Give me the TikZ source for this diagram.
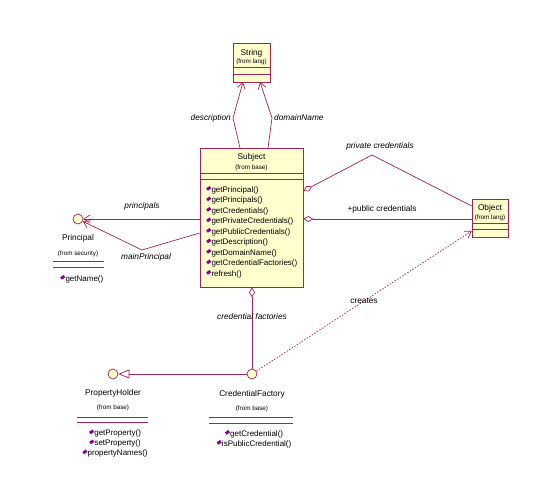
\documentclass[tikz,border=0pt]{standalone}
\usepackage{fontspec}
\setmainfont{Liberation Sans}
\usetikzlibrary{arrows.meta}
\definecolor{lc}{RGB}{165,35,85}
\definecolor{bf}{RGB}{255,255,206}
\definecolor{ic}{RGB}{140,0,150}
\newcommand{\micon}{\textcolor{ic}{\raisebox{1.6pt}{\rotatebox{35}{\rule{4.2pt}{2.9pt}}}}\hspace{0.2pt}}
\begin{document}
\begin{tikzpicture}[x=1pt,y=-1pt,
  box/.style={draw=lc,fill=bf,line width=0.7pt,inner sep=0},
  iface/.style={circle,draw=lc,fill=bf,line width=0.7pt,minimum size=10pt,inner sep=0},
  sep/.style={draw=lc,line width=0.7pt},
  conn/.style={draw=lc,line width=0.7pt},
  nav/.style={-{Straight Barb[length=6pt,width=8pt,line width=0.7pt]}},
  agg/.style={{Diamond[length=10pt,width=6pt,fill=white,line width=0.7pt]}-},
  nm/.style={font=\fontsize{8.3}{10}\selectfont,inner sep=0},
  frm/.style={font=\fontsize{6.3}{7}\selectfont,inner sep=0},
  lbl/.style={font=\fontsize{8.3}{10}\selectfont\itshape,inner sep=0},
  mth/.style={font=\fontsize{8}{10}\selectfont,inner sep=0}]
\useasboundingbox (0,0) rectangle (536,482);

% String
\node[box,minimum width=37pt,minimum height=39pt] (string) at (251.5,62.5) {};
\node[nm] (stringn) at (251.5,53) {String};
\node[frm] (stringf) at (251.5,62) {(from lang)};
\draw[sep] (string.west |- 0,67) -- (string.east |- 0,67);
\draw[sep] (string.west |- 0,74) -- (string.east |- 0,74);

% Subject
\node[box,minimum width=103pt,minimum height=139pt] (subject) at (251.5,217.5) {};
\node[nm] (subjectn) at (251.5,157) {Subject};
\node[frm] (subjectf) at (251.5,168) {(from base)};
\draw[sep] (subject.west |- 0,173) -- (subject.east |- 0,173);
\draw[sep] (subject.west |- 0,179) -- (subject.east |- 0,179);
\foreach \t [count=\i] in {getPrincipal(),getPrincipals(),getCredentials(),getPrivateCredentials(),getPublicCredentials(),getDescription(),getDomainName(),getCredentialFactories(),refresh()}
  \node[mth,anchor=west] (sm\i) at (206,{179.5+10.5*\i}) {\micon\t};

% Object
\node[box,minimum width=36pt,minimum height=38pt] (object) at (490,218) {};
\node[nm] (objectn) at (490,208) {Object};
\node[frm] (objectf) at (490,218) {(from lang)};
\draw[sep] (object.west |- 0,223.5) -- (object.east |- 0,223.5);
\draw[sep] (object.west |- 0,229) -- (object.east |- 0,229);

% Principal
\node[iface] (principal) at (78,219) {};
\node[nm] (principaln) at (78,238) {Principal};
\node[frm] (principalf) at (78,254) {(from security)};
\draw[sep] (53,261) -- (104,261);
\draw[sep] (53,267) -- (104,267);
\node[mth,anchor=west] (pm1) at (60,279) {\micon getName()};

% PropertyHolder
\node[iface] (propholder) at (113,374) {};
\node[nm] (propholdern) at (113,393) {PropertyHolder};
\node[frm] (propholderf) at (113,408) {(from base)};
\draw[sep] (77,417) -- (148,417);
\draw[sep] (77,422.5) -- (148,422.5);
\node[mth] (ph1) at (115,433.5) {\micon getProperty()};
\node[mth] (ph2) at (115,443.5) {\micon setProperty()};
\node[mth] (ph3) at (115,453.5) {\micon propertyNames()};

% CredentialFactory
\node[iface] (credfac) at (252,374) {};
\node[nm] (credfacn) at (252,394) {CredentialFactory};
\node[frm] (credfacf) at (252,409) {(from base)};
\draw[sep] (209,417) -- (293,417);
\draw[sep] (209,423) -- (293,423);
\node[mth] (cf1) at (254,434) {\micon getCredential()};
\node[mth] (cf2) at (254,444) {\micon isPublicCredential()};

% connector points
\coordinate (dS) at (240,148);
\coordinate (dM) at (233,118);
\coordinate (dE) at (243,82);
\coordinate (nS) at (268,148);
\coordinate (nM) at (272,118);
\coordinate (nE) at (260,82);
\coordinate (pcM) at (372,155);
\coordinate (mpM) at (142,250);

% connectors
\draw[conn,nav] (dS) -- (dM) -- (dE);
\draw[conn,nav] (nS) -- (nM) -- (nE);
\draw[conn,agg] (subject.east |- 0,191) -- (pcM) -- (object.west |- 0,206);
\draw[conn,agg] (subject.east |- 0,219) -- (object.west |- 0,219);
\draw[conn,agg,nav] (subject.west |- principal) -- (principal);
\draw[conn,nav] (subject.west |- 0,233) -- (mpM) -- (principal);
\draw[conn,agg] (subject.south -| credfac) -- (credfac);
\draw[conn,nav,dash pattern=on 1.5pt off 1.5pt] (credfac) -- (object.west |- 0,231);
\draw[conn,-{Triangle[open,length=11pt,width=9pt,line width=0.7pt]}] (credfac) -- (propholder);

% labels
\node[lbl,anchor=east] (ldesc) at (231,118) {description};
\node[lbl,anchor=west] (ldom) at (274,118) {domainName};
\node[lbl] (lpriv) at (380,146) {private credentials};
\node[nm] (lpub) at (382,209) {+public credentials};
\node[lbl] (lprin) at (142,206) {principals};
\node[lbl] (lmain) at (146,257) {mainPrincipal};
\node[lbl] (lcf) at (252,317) {credential factories};
\node[nm] (lcr) at (364,301) {creates};
\end{tikzpicture}
\end{document}
